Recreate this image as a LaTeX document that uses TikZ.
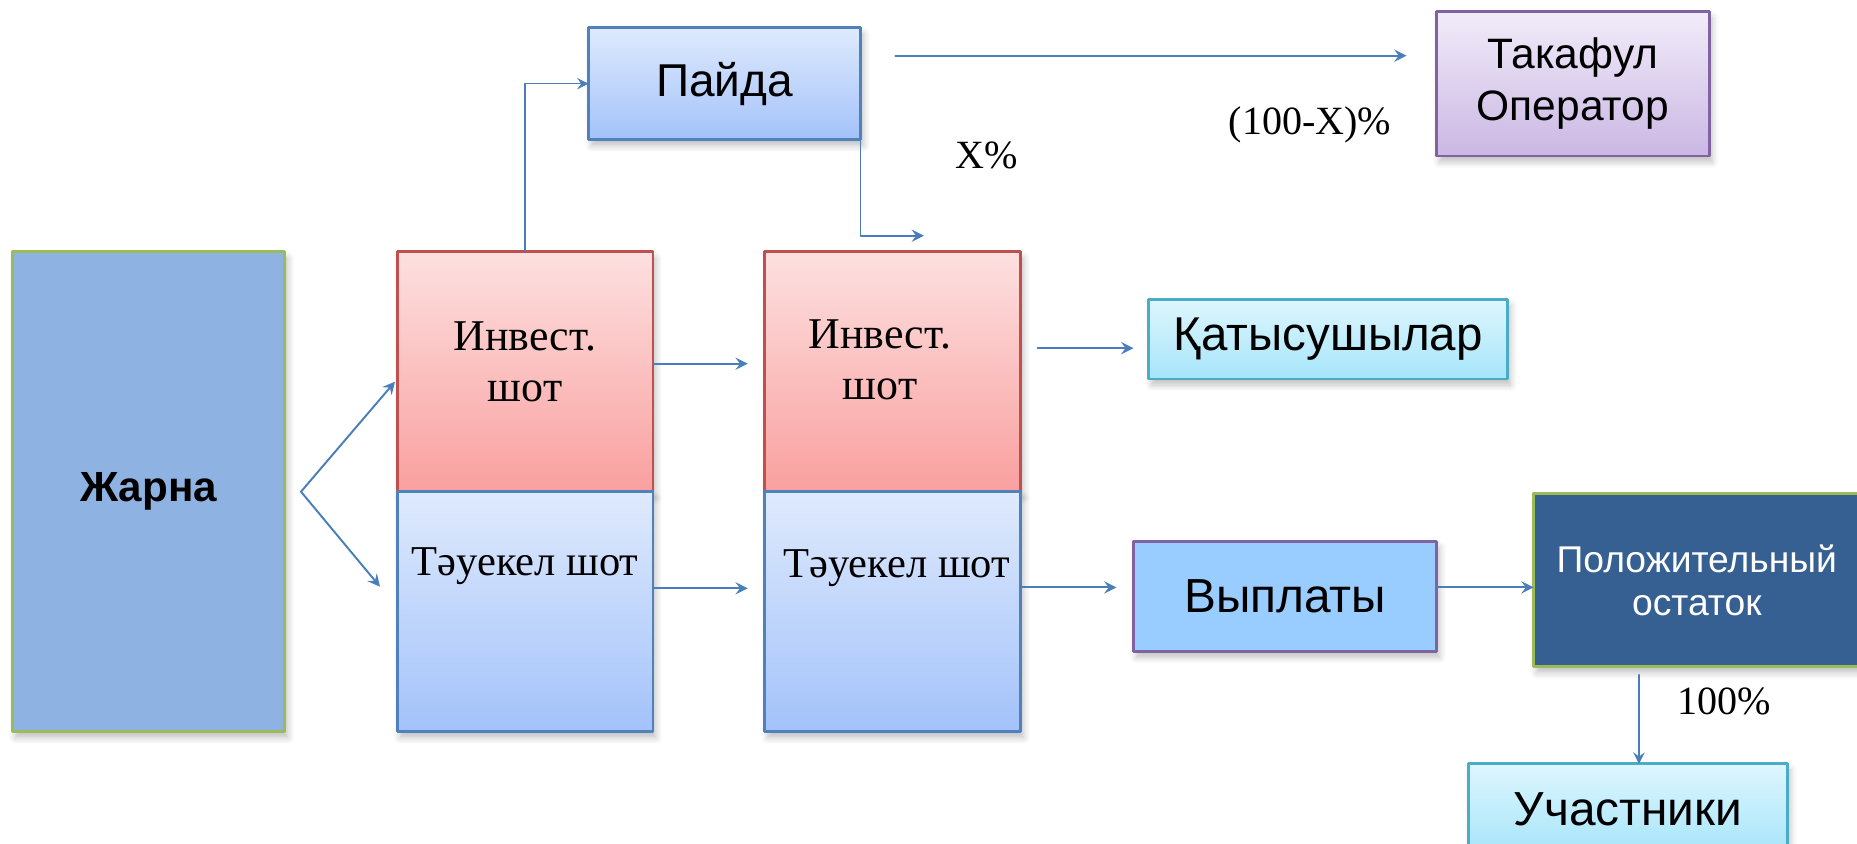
\documentclass[tikz,border=0pt]{standalone}
\usepackage{fontspec}
\setmainfont{Liberation Serif}
\setsansfont{Liberation Sans}
\usetikzlibrary{shadows.blur}

\definecolor{linkblue}{HTML}{4A7EBB}
\definecolor{edgeblue}{HTML}{4F81BD}
\definecolor{edgered}{HTML}{C0504D}
\definecolor{edgegreen}{HTML}{9BBB59}
\definecolor{edgepurple}{HTML}{8064A2}
\definecolor{edgecyan}{HTML}{4BACC6}
\definecolor{paleblue}{HTML}{DFEAFD}
\definecolor{deepblue}{HTML}{A3C2FA}
\definecolor{palered}{HTML}{FDE0E0}
\definecolor{deepred}{HTML}{F9A09F}
\definecolor{palelilac}{HTML}{F1ECF9}
\definecolor{deeplilac}{HTML}{CBB7E4}
\definecolor{palecyan}{HTML}{DEF6FE}
\definecolor{deepcyan}{HTML}{A6E5FA}
\definecolor{steel}{HTML}{8EB3E2}
\definecolor{sky}{HTML}{99CCFF}
\definecolor{navy}{HTML}{376092}

\tikzset{
  box/.style={draw, line width=0.8pt, inner sep=0pt, outer sep=0pt,
    blur shadow={shadow xshift=0.03cm, shadow yshift=-0.06cm, shadow opacity=25, shadow blur steps=6}},
  bluebox/.style={box, draw=edgeblue, top color=paleblue, bottom color=deepblue},
  redbox/.style={box, draw=edgered, top color=palered, bottom color=deepred},
  lilacbox/.style={box, draw=edgepurple, top color=palelilac, bottom color=deeplilac},
  cyanbox/.style={box, draw=edgecyan, top color=palecyan, bottom color=deepcyan},
  link/.style={->, draw=linkblue, line width=0.55pt},
  sanstext/.style={font=\sffamily\fontsize{13.6}{15.8}\selectfont, align=center},
  seriftext/.style={font=\fontsize{12.5}{14.5}\selectfont, align=center},
  pct/.style={font=\fontsize{11.4}{13}\selectfont},
}

\begin{document}
\begin{tikzpicture}[>=stealth, line join=round, line cap=round]
  \useasboundingbox (0,0) rectangle (18.57,-8.44);
  \clip (0,0) rectangle (18.57,-8.44);
  \def\colw{2.558cm} \def\colh{2.40cm}

  % contribution
  \node[box, draw=edgegreen, fill=steel, minimum width=2.726cm, minimum height=4.80cm,
        font=\sffamily\bfseries\fontsize{12}{14}\selectfont] (zharna) at (1.486,-4.917) {Жарна};

  % two account columns
  \node[redbox, minimum width=\colw, minimum height=\colh] (inv1) at (5.25,-3.717) {};
  \node[bluebox, minimum width=\colw, minimum height=\colh] (risk1) at (5.25,-6.117) {};
  \node[redbox, minimum width=\colw, minimum height=\colh] (inv2) at (8.927,-3.717) {};
  \node[bluebox, minimum width=\colw, minimum height=\colh] (risk2) at (8.927,-6.117) {};
  \node[seriftext] (inv1txt) at (5.25,-3.62) {Инвест.\\шот};
  \node[seriftext, font=\fontsize{12.1}{14}\selectfont] (risk1txt) at (5.25,-5.66) {Тәуекел шот};
  \node[seriftext] (inv2txt) at (8.80,-3.60) {Инвест.\\шот};
  \node[seriftext, font=\fontsize{12.1}{14}\selectfont] (risk2txt) at (8.967,-5.68) {Тәуекел шот};

  % right hand boxes
  \node[bluebox, minimum width=2.719cm, minimum height=1.12cm,
        sanstext, font=\sffamily\fontsize{13.1}{15}\selectfont] (paida) at (7.2455,-0.837) {Пайда};
  \node[lilacbox, minimum width=2.728cm, minimum height=1.443cm,
        sanstext, font=\sffamily\fontsize{12.1}{14.8}\selectfont] (takaful) at (15.729,-0.8385) {Такафул\\Оператор};
  \node[cyanbox, minimum width=3.588cm, minimum height=0.794cm, sanstext,
        font=\sffamily\fontsize{13.5}{15}\selectfont] (katys) at (13.282,-3.393) {Қатысушылар};
  \node[box, draw=edgepurple, fill=sky, minimum width=3.03cm, minimum height=1.10cm, sanstext] (vyplaty) at (12.85,-5.963) {Выплаты};
  \node[box, draw=edgegreen, fill=navy, text=white, minimum width=3.263cm, minimum height=1.73cm,
        sanstext, font=\sffamily\fontsize{10.6}{12.2}\selectfont] (ostatok) at (16.968,-5.803) {Положительный\\остаток};
  \node[cyanbox, minimum width=3.187cm, minimum height=0.90cm, sanstext] (uchast) at (16.279,-8.089) {Участники};

  % shares
  \node[pct] (xpct) at (9.864,-1.55) {X\%};
  \node[pct] (restpct) at (13.10,-1.25) {(100-X)\%};
  \node[pct] (fullpct) at (17.243,-7.011) {100\%};

  % links
  \coordinate (fork) at (3.01,-4.917);
  \coordinate (forkup) at (3.95,-3.817);
  \coordinate (forkdown) at (3.80,-5.867);
  \coordinate (katysin) at ([yshift=-0.089cm]katys.west);
  \coordinate (vyplatyin) at ([yshift=0.089cm]vyplaty.west);
  \coordinate (vyplatyout) at ([yshift=0.089cm]vyplaty.east);
  \coordinate (uchastin) at ([xshift=0.111cm]uchast.north);
  \draw[link] (fork) -- (forkup);
  \draw[link] (fork) -- (forkdown);
  \draw[link, shorten >=0.17cm] ([yshift=0.08cm]inv1.east) -- ([yshift=0.08cm]inv2.west);
  \draw[link, shorten >=0.17cm] ([yshift=0.234cm]risk1.east) -- ([yshift=0.234cm]risk2.west);
  \draw[link, shorten <=0.17cm, shorten >=0.154cm] (inv2.east |- katysin) -- (katysin);
  \draw[link, shorten >=0.17cm] (risk2.east |- vyplatyin) -- (vyplatyin);
  \draw[link] (vyplatyout) -- (ostatok.west |- vyplatyout);
  \draw[link, line width=0.45pt, shorten <=0.08cm] (ostatok.south -| uchastin) -- (uchastin);
  \draw[link, line width=0.45pt] (inv1.north) |- (paida.west);
  \coordinate (xend) at (9.24,-2.357);
  \draw[link] (paida.south east) |- (xend);
  \coordinate (topstart) at (8.953,-0.557);
  \draw[link, shorten >=0.3cm] (topstart) -- (takaful.west |- topstart);
\end{tikzpicture}
\end{document}
